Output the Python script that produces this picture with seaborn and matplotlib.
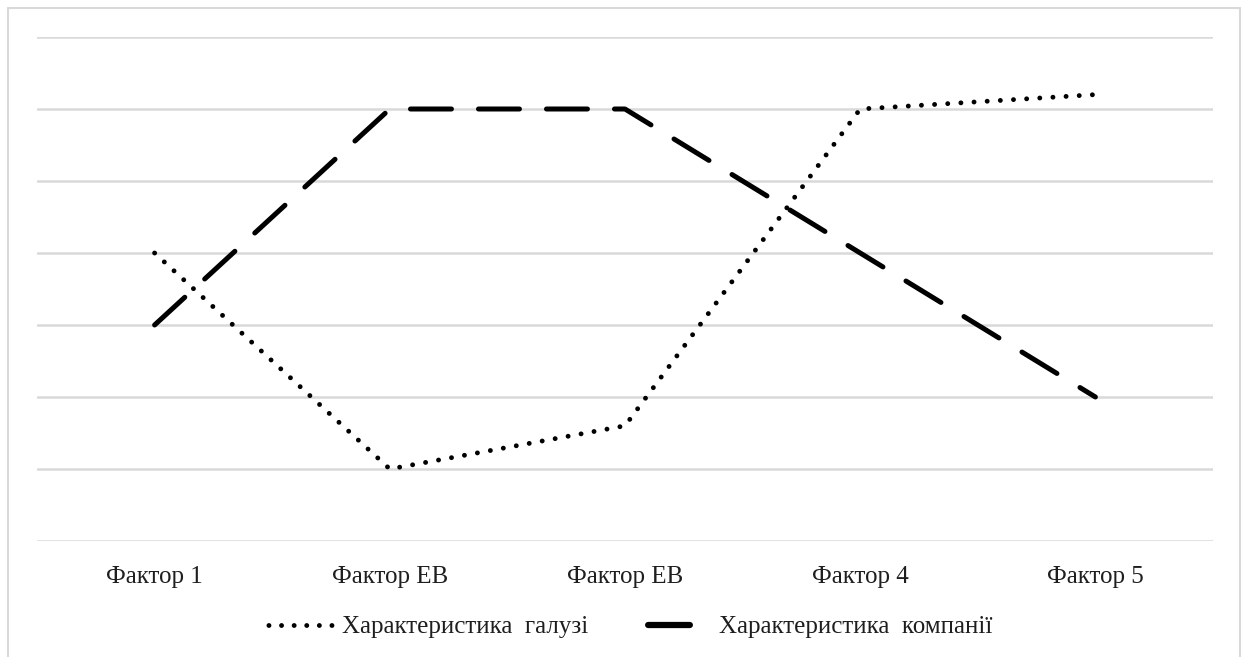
import matplotlib
matplotlib.use("Agg")
import matplotlib.pyplot as plt
import seaborn as sns
import pandas as pd
from matplotlib.patches import Rectangle
from matplotlib.lines import Line2D

categories = ["Фактор 1", "Фактор ЕВ", "Фактор ЕВ", "Фактор 4", "Фактор 5"]
industry = [4.0, 1.0, 1.6, 6.0, 6.2]
company = [3.0, 6.0, 6.0, 4.0, 2.0]
series_names = ["Характеристика  галузі", "Характеристика  компанії"]

sns.set_theme(style="white")
plt.rcParams['font.family'] = ['Liberation Serif', 'DejaVu Serif']

pos = list(range(len(categories)))
df_ind = pd.DataFrame({"x": pos, "y": industry})
df_com = pd.DataFrame({"x": pos, "y": company})

fig = plt.figure(figsize=(12.43, 6.57), dpi=100)
ax = fig.add_axes([37/1243, 1-541/657, (1213-37)/1243, (541-37)/657])

dot_style = (0, (0.01, 2.7))
dash_style = (0, (8.2, 5.4))
sns.lineplot(data=df_ind, x="x", y="y", ax=ax, color="black", lw=3.5,
             linestyle=dot_style, dash_capstyle="round", legend=False)
sns.lineplot(data=df_com, x="x", y="y", ax=ax, color="black", lw=3.6,
             linestyle=dash_style, dash_capstyle="round", legend=False)

ax.set_xlim(-0.5, len(categories) - 0.5)
ax.set_ylim(0, 7)
ax.set_yticks(range(0, 8))
ax.set_yticklabels([])
ax.yaxis.grid(True, color="#d9d9d9", lw=1.8)
ax.xaxis.grid(False)
ax.set_axisbelow(True)
for s in ax.spines.values():
    s.set_visible(False)
ax.set_xticks(pos)
ax.set_xticklabels(categories, fontsize=18, color="#1e1e1e")
ax.tick_params(axis="both", length=0, pad=18)
ax.set_xlabel("")
ax.set_ylabel("")

# legend handles
fs = 18
em = fs * 100 / 72.0
hl_px = 70.0
lw_dot = 3.5
dot_px = lw_dot * 100 / 72.0
lw_leg = 4.5
px = lw_leg * 100 / 72.0
dash_px = 48.0
dash_lw = dash_px / px - 1.0
gap_lw = 30.0
period = dash_lw + gap_lw
lead = (3.0 + px / 2.0) / px
leg_dash = (period - lead, (dash_lw, gap_lw))
dot_gap = 12.6 / dot_px
handles = [Line2D([0], [0], color="black", lw=lw_dot,
                  linestyle=(dot_gap - (dot_px / 2 + 1.0) / dot_px, (0.01, dot_gap - 0.01)),
                  dash_capstyle="round"),
           Line2D([0], [0], color="black", lw=lw_leg, linestyle=leg_dash, dash_capstyle="round")]
leg = fig.legend(handles, series_names, loc="center", bbox_to_anchor=(629/1243, 1-627/657),
                 ncol=2, frameon=False, fontsize=fs, handlelength=hl_px / em,
                 columnspacing=54.0 / em, handletextpad=7.0 / em)
for t in leg.get_texts():
    t.set_color("#1e1e1e")

fig.patches.append(Rectangle((8/1243, -0.05), (1240-8)/1243, 1.05-8/657,
                             transform=fig.transFigure, fill=False,
                             edgecolor="#d9d9d9", lw=1.5))

fig.savefig("out.png", dpi=100, facecolor="white")
